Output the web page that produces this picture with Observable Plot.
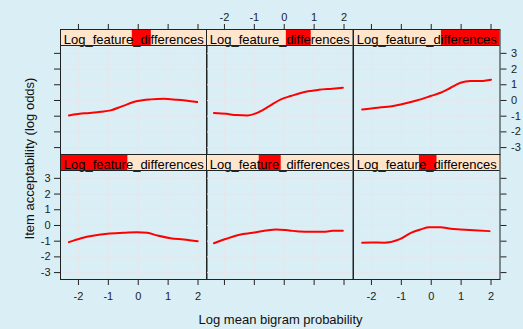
<!DOCTYPE html>
<html><head><meta charset="utf-8">
<script src="https://cdn.jsdelivr.net/npm/d3@7"></script>
<script src="https://cdn.jsdelivr.net/npm/@observablehq/plot@0.6"></script>
<style>
html,body{margin:0;padding:0;background:#daeef5;}
#fig{position:relative;width:523px;height:329px;overflow:hidden;background:#daeef5;font-family:"Liberation Sans",Arial,sans-serif;color:#111;}
#fig svg{position:absolute;overflow:visible;}
.xlab{position:absolute;left:130.6px;width:300px;top:311.5px;height:15px;line-height:15px;text-align:center;font-size:13px;}
.ylab{position:absolute;left:-96.5px;width:250px;top:150.5px;height:15px;line-height:15px;text-align:center;font-size:13px;transform:rotate(-90deg);}
</style></head><body><div id="fig"></div>
<script>
// ---- data (lattice panel order: bottom row left->right, then top row) ----
const stripLabel = "Log_feature_differences";
const stripLevels = [[0, 0.46], [0.36, 0.51], [0.45, 0.57], [0.49, 0.62], [0.545, 0.715], [0.6, 1.0]];
const xTicks = [-2, -1, 0, 1, 2];
const yTicks = [-3, -2, -1, 0, 1, 2, 3];
const xTitle = "Log mean bigram probability";
const yTitle = "Item acceptability (log odds)";

const curve1x = [-2.32, -1.91, -1.47, -1.03, -0.47, -0.03, 0.30, 0.64, 1.08, 1.52, 1.99];
const curve1y = [-1.06, -0.81, -0.64, -0.53, -0.47, -0.43, -0.47, -0.64, -0.81, -0.89, -1.00];
const curve2x = [-2.35, -1.94, -1.49, -1.05, -0.61, -0.27, 0.17, 0.50, 0.94, 1.39, 1.61, 1.96];
const curve2y = [-1.13, -0.85, -0.59, -0.47, -0.32, -0.25, -0.32, -0.38, -0.40, -0.40, -0.34, -0.34];
const curve3x = [-2.31, -2.01, -1.57, -1.07, -0.68, -0.35, -0.07, 0.31, 0.65, 0.98, 1.42, 1.95];
const curve3y = [-1.10, -1.08, -1.10, -0.89, -0.47, -0.25, -0.11, -0.11, -0.21, -0.25, -0.30, -0.36];
const curve4x = [-2.32, -1.80, -1.25, -0.92, -0.53, -0.03, 0.41, 0.86, 1.30, 1.97];
const curve4y = [-0.95, -0.82, -0.72, -0.63, -0.36, -0.04, 0.07, 0.11, 0.04, -0.10];
const curve5x = [-2.35, -1.94, -1.60, -1.22, -0.83, -0.50, -0.11, 0.22, 0.72, 1.16, 1.61, 1.96];
const curve5y = [-0.80, -0.85, -0.93, -0.95, -0.72, -0.36, 0.07, 0.28, 0.56, 0.68, 0.75, 0.81];
const curve6x = [-2.31, -1.79, -1.46, -1.02, -0.46, -0.02, 0.31, 0.65, 0.98, 1.31, 1.64, 2.00];
const curve6y = [-0.57, -0.46, -0.40, -0.25, 0.01, 0.28, 0.49, 0.81, 1.13, 1.24, 1.24, 1.32];

const curvesX = [curve1x, curve2x, curve3x, curve4x, curve5x, curve6x];
const curvesY = [curve1y, curve2y, curve3y, curve4y, curve5y, curve6y];

// ---- layout ----
const colLeft = [59.5, 206, 352.5];
const rowTop = [28.5, 153.5]; // top row, bottom row
const panelW = 146.5, panelH = 109, stripH = 16;
const mL = 40, mR = 40, mT = 30, mB = 30;
const xDom = [-2.6, 2.3];
const yLo = -3.44, yHi = 3.5;
const yTop = yHi + stripH * (yHi - yLo) / panelH;

const gridCol = "#e7e6ec", peach = "#ffe5cc", red = "#ff0000", frameCol = "#222";
const fmt = d => String(d);
const blank = () => "";
const fig = document.getElementById("fig");

for (let i = 0; i < 6; i++) {
  const col = i % 3;
  const bottom = i < 3;
  const row = bottom ? 1 : 0;
  const data = curvesX[i].map((x, k) => ({x, y: curvesY[i][k]}));
  const [f1, f2] = stripLevels[i];
  const span = xDom[1] - xDom[0];
  const marks = [
    Plot.ruleY(yTicks, {stroke: gridCol, strokeWidth: 1}),
    Plot.ruleX(xTicks, {y1: yLo, y2: yHi, stroke: gridCol, strokeWidth: 1}),
    Plot.rect([0], {x1: xDom[0], x2: xDom[1], y1: yHi, y2: yTop, fill: peach}),
    Plot.rect([0], {x1: xDom[0] + f1 * span, x2: xDom[0] + f2 * span, y1: yHi, y2: yTop, fill: red}),
    Plot.text([stripLabel], {x: (xDom[0] + xDom[1]) / 2, y: (yHi + yTop) / 2, text: d => d, fontSize: 13, fill: "#000", dy: 2.5}),
    Plot.line(data, {x: "x", y: "y", stroke: red, strokeWidth: 2, curve: "monotone-x"}),
    Plot.ruleY([yHi], {stroke: frameCol}),
    Plot.frame({stroke: frameCol})
  ];
  if (col === 0) marks.push(Plot.axisY({ticks: yTicks, anchor: "left", label: null, tickSize: 6, tickPadding: 4, tickFormat: bottom ? fmt : blank}));
  if (col === 2) marks.push(Plot.axisY({ticks: yTicks, anchor: "right", label: null, tickSize: 6, tickPadding: 5, tickFormat: bottom ? blank : fmt}));
  if (bottom) marks.push(Plot.axisX({ticks: xTicks, anchor: "bottom", label: null, tickSize: 6, tickPadding: 7, tickFormat: col === 1 ? blank : fmt}));
  else marks.push(Plot.axisX({ticks: xTicks, anchor: "top", label: null, tickSize: 6, tickPadding: 3, tickFormat: col === 1 ? fmt : blank}));

  const yScale = {domain: [yLo, yTop]};
  if (col === 1) yScale.axis = null;

  const svg = Plot.plot({
    width: mL + panelW + mR,
    height: mT + stripH + panelH + mB,
    marginLeft: mL, marginRight: mR, marginTop: mT, marginBottom: mB,
    x: {domain: xDom},
    y: yScale,
    style: {background: "transparent", fontSize: "11px", fontFamily: '"Liberation Sans", Arial, sans-serif', color: "#222", overflow: "visible"},
    marks
  });
  svg.style.left = (colLeft[col] - mL) + "px";
  svg.style.top = (rowTop[row] - mT) + "px";
  svg.style.position = "absolute";
  svg.style.maxWidth = "none";
  fig.appendChild(svg);
}

const xl = document.createElement("div"); xl.className = "xlab"; xl.textContent = xTitle; fig.appendChild(xl);
const yl = document.createElement("div"); yl.className = "ylab"; yl.textContent = yTitle; fig.appendChild(yl);
</script></body></html>
